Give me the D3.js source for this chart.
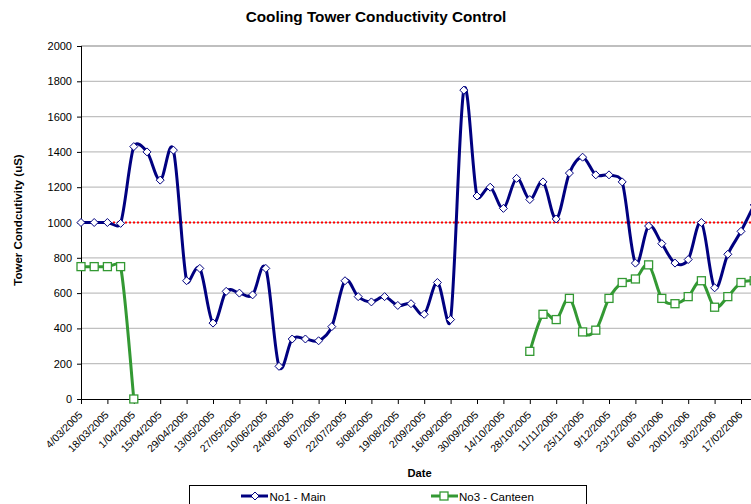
<!DOCTYPE html>
<html>
<head>
<meta charset="utf-8">
<script src="https://d3js.org/d3.v7.min.js"></script>
<style>
  body { margin: 0; background: #ffffff; }
  svg { display: block; font-family: "Liberation Sans", Arial, sans-serif; }
</style>
</head>
<body>
<script>
// weekly readings (dd/mm/yyyy)
let dates = ['4/03/2005','11/03/2005','18/03/2005','25/03/2005','1/04/2005','8/04/2005','15/04/2005','22/04/2005',
  '29/04/2005','6/05/2005','13/05/2005','20/05/2005','27/05/2005','3/06/2005','10/06/2005','17/06/2005',
  '24/06/2005','1/07/2005','8/07/2005','15/07/2005','22/07/2005','29/07/2005','5/08/2005','12/08/2005',
  '19/08/2005','26/08/2005','2/09/2005','9/09/2005','16/09/2005','23/09/2005','30/09/2005','7/10/2005',
  '14/10/2005','21/10/2005','28/10/2005','4/11/2005','11/11/2005','18/11/2005','25/11/2005','2/12/2005',
  '9/12/2005','16/12/2005','23/12/2005','30/12/2005','6/01/2006','13/01/2006','20/01/2006','27/01/2006',
  '3/02/2006','10/02/2006','17/02/2006','24/02/2006'];

let mainValues = [1000,1000,1000,995,1430,1400,1240,1410,670,740,430,610,600,590,740,185,
  340,340,330,410,670,580,550,580,530,540,480,660,450,1750,1150,1200,
  1080,1250,1130,1230,1020,1280,1370,1270,1270,1230,770,980,880,770,
  790,1000,630,820,950,1100];

let canteenValues = [750,750,750,750,0,null,null,null,null,null,null,null,null,null,null,null,
  null,null,null,null,null,null,null,null,null,null,null,null,null,null,null,null,
  null,null,270,480,450,570,380,390,570,660,680,760,570,540,580,670,
  520,580,660,670];

let limitValue = 1000;

let tickLabels = ['4/03/2005','18/03/2005','1/04/2005','15/04/2005','29/04/2005','13/05/2005','27/05/2005',
  '10/06/2005','24/06/2005','8/07/2005','22/07/2005','5/08/2005','19/08/2005','2/09/2005','16/09/2005',
  '30/09/2005','14/10/2005','28/10/2005','11/11/2005','25/11/2005','9/12/2005','23/12/2005','6/01/2006',
  '20/01/2006','3/02/2006','17/02/2006'];

let yTicks = [0,200,400,600,800,1000,1200,1400,1600,1800,2000];

let w = 751;
let h = 504;
let plotLeft = 81, plotTop = 46, plotBottom = 399;

let parseTime = d3.timeParse('%d/%m/%Y');
let dateObjs = dates.map(d => parseTime(d));
let tickDates = tickLabels.map(d => parseTime(d));

// Excel style smoothed line: bezier with 1/6 tangents, clamped to half the segment length
function ExcelSmooth(context) { this._context = context; }
ExcelSmooth.prototype = {
  areaStart() {}, areaEnd() {},
  lineStart() { this._pts = []; },
  point(x, y) { this._pts.push([+x, +y]); },
  lineEnd() {
    let p = this._pts, ctx = this._context;
    if (!p.length) return;
    ctx.moveTo(p[0][0], p[0][1]);
    let dist = (a, b) => Math.hypot(b[0] - a[0], b[1] - a[1]);
    for (let i = 0; i < p.length - 1; i++) {
      let p0 = p[i - 1] || p[i], p1 = p[i], p2 = p[i + 1], p3 = p[i + 2] || p[i + 1];
      let d12 = dist(p1, p2), d02 = dist(p0, p2), d13 = dist(p1, p3);
      let f0 = d02 > 0 ? Math.min(1 / 6, d12 / (2 * d02)) : 0;
      let f3 = d13 > 0 ? Math.min(1 / 6, d12 / (2 * d13)) : 0;
      ctx.bezierCurveTo(
        p1[0] + f0 * (p2[0] - p0[0]), p1[1] + f0 * (p2[1] - p0[1]),
        p2[0] - f3 * (p3[0] - p1[0]), p2[1] - f3 * (p3[1] - p1[1]),
        p2[0], p2[1]);
    }
  }
};
let curveExcel = context => new ExcelSmooth(context);

let svg = d3.select('body')
  .append('svg')
  .attr('width', w)
  .attr('height', h);

// x is a date axis, labelled every 14 days; plot runs past the right edge
let xScale = d3.scaleTime()
  .domain([tickDates[0], tickDates[tickDates.length - 1]])
  .range([plotLeft, 741]);

let yScale = d3.scaleLinear()
  .domain([0, 2000])
  .range([plotBottom, plotTop]);

let xEnd = 800;

// gridlines
svg.append('g')
  .selectAll('line')
  .data(yTicks.filter(v => v > 0))
  .enter()
  .append('line')
  .attr('x1', plotLeft)
  .attr('x2', xEnd)
  .attr('y1', d => yScale(d))
  .attr('y2', d => yScale(d))
  .attr('stroke', d => d === 2000 ? '#808080' : '#c0c0c0')
  .attr('stroke-width', 1.2);

// axes
let yAxis = d3.axisLeft(yScale).tickValues(yTicks).tickSize(4).tickPadding(5).tickFormat(d3.format('d'));
let gy = svg.append('g')
  .attr('transform', 'translate(' + plotLeft + ',0)')
  .call(yAxis);
gy.selectAll('text').attr('font-size', 11).attr('fill', '#000').attr('font-family', null);
gy.select('.domain').attr('stroke', '#000').attr('d', 'M0.5,' + plotTop + 'V' + plotBottom);

let xAxis = d3.axisBottom(xScale)
  .tickValues(tickDates)
  .tickSize(5)
  .tickFormat((d, i) => tickLabels[i]);
let gx = svg.append('g')
  .attr('transform', 'translate(0,' + plotBottom + ')')
  .call(xAxis);
gx.select('.domain').attr('stroke', '#000').attr('d', 'M' + plotLeft + ',0.5H' + xEnd);
gx.selectAll('text')
  .attr('font-size', 10.5)
  .attr('font-family', null)
  .attr('fill', '#000')
  .attr('text-anchor', 'end')
  .attr('x', 0)
  .attr('y', 0)
  .attr('dy', '0.35em')
  .attr('transform', 'translate(-1,14) rotate(-45)');

// threshold line
svg.append('line')
  .attr('x1', plotLeft)
  .attr('x2', xEnd)
  .attr('y1', yScale(limitValue))
  .attr('y2', yScale(limitValue))
  .attr('stroke', '#ff0000')
  .attr('stroke-width', 2)
  .attr('stroke-dasharray', '2,2');

let lineGen = d3.line()
  .defined(d => d[1] !== null)
  .x(d => xScale(d[0]))
  .y(d => yScale(d[1]))
  .curve(curveExcel);

let mainData = dateObjs.map((d, i) => [d, mainValues[i]]);
let canteenData = dateObjs.map((d, i) => [d, canteenValues[i]]);

let blue = '#000080';
let green = '#339933';

svg.append('path')
  .attr('d', lineGen(canteenData))
  .attr('fill', 'none')
  .attr('stroke', green)
  .attr('stroke-width', 3);

svg.append('path')
  .attr('d', lineGen(mainData))
  .attr('fill', 'none')
  .attr('stroke', blue)
  .attr('stroke-width', 3);

let diamond = 'M0,-4L4,0L0,4L-4,0Z';

svg.append('g')
  .selectAll('rect')
  .data(canteenData.filter(d => d[1] !== null))
  .enter()
  .append('rect')
  .attr('x', d => xScale(d[0]) - 4)
  .attr('y', d => yScale(d[1]) - 4)
  .attr('width', 8)
  .attr('height', 8)
  .attr('fill', '#fff')
  .attr('stroke', green)
  .attr('stroke-width', 1.3);

svg.append('g')
  .selectAll('path')
  .data(mainData)
  .enter()
  .append('path')
  .attr('d', diamond)
  .attr('transform', d => 'translate(' + xScale(d[0]) + ',' + yScale(d[1]) + ')')
  .attr('fill', '#fff')
  .attr('stroke', blue)
  .attr('stroke-width', 1);

// titles
svg.append('text')
  .attr('x', 376)
  .attr('y', 21.5)
  .attr('text-anchor', 'middle')
  .attr('font-size', 15.3)
  .attr('font-weight', 'bold')
  .text('Cooling Tower Conductivity Control');

svg.append('text')
  .attr('transform', 'translate(21.5,220) rotate(-90)')
  .attr('text-anchor', 'middle')
  .attr('font-size', 11.5)
  .attr('font-weight', 'bold')
  .text('Tower Condcutivity (uS)');

svg.append('text')
  .attr('x', 419.5)
  .attr('y', 477)
  .attr('text-anchor', 'middle')
  .attr('font-size', 11.2)
  .attr('font-weight', 'bold')
  .text('Date');

// legend
let legend = svg.append('g');
legend.append('rect')
  .attr('x', 189.5)
  .attr('y', 485.5)
  .attr('width', 397)
  .attr('height', 30)
  .attr('fill', '#fff')
  .attr('stroke', '#000')
  .attr('stroke-width', 1);

let ly = 496;
legend.append('line')
  .attr('x1', 241).attr('x2', 268).attr('y1', ly).attr('y2', ly)
  .attr('stroke', blue).attr('stroke-width', 3);
legend.append('path')
  .attr('d', diamond)
  .attr('transform', 'translate(255,' + ly + ')')
  .attr('fill', '#fff').attr('stroke', blue);
legend.append('text')
  .attr('x', 269.5).attr('y', ly + 4.5)
  .attr('font-size', 11.5)
  .text('No1 - Main');

legend.append('line')
  .attr('x1', 431).attr('x2', 458).attr('y1', ly).attr('y2', ly)
  .attr('stroke', green).attr('stroke-width', 3);
legend.append('rect')
  .attr('x', 440).attr('y', ly - 4).attr('width', 8).attr('height', 8)
  .attr('fill', '#fff').attr('stroke', green).attr('stroke-width', 1.3);
legend.append('text')
  .attr('x', 459).attr('y', ly + 4.5)
  .attr('font-size', 11.5)
  .text('No3 - Canteen');
</script>
</body>
</html>
